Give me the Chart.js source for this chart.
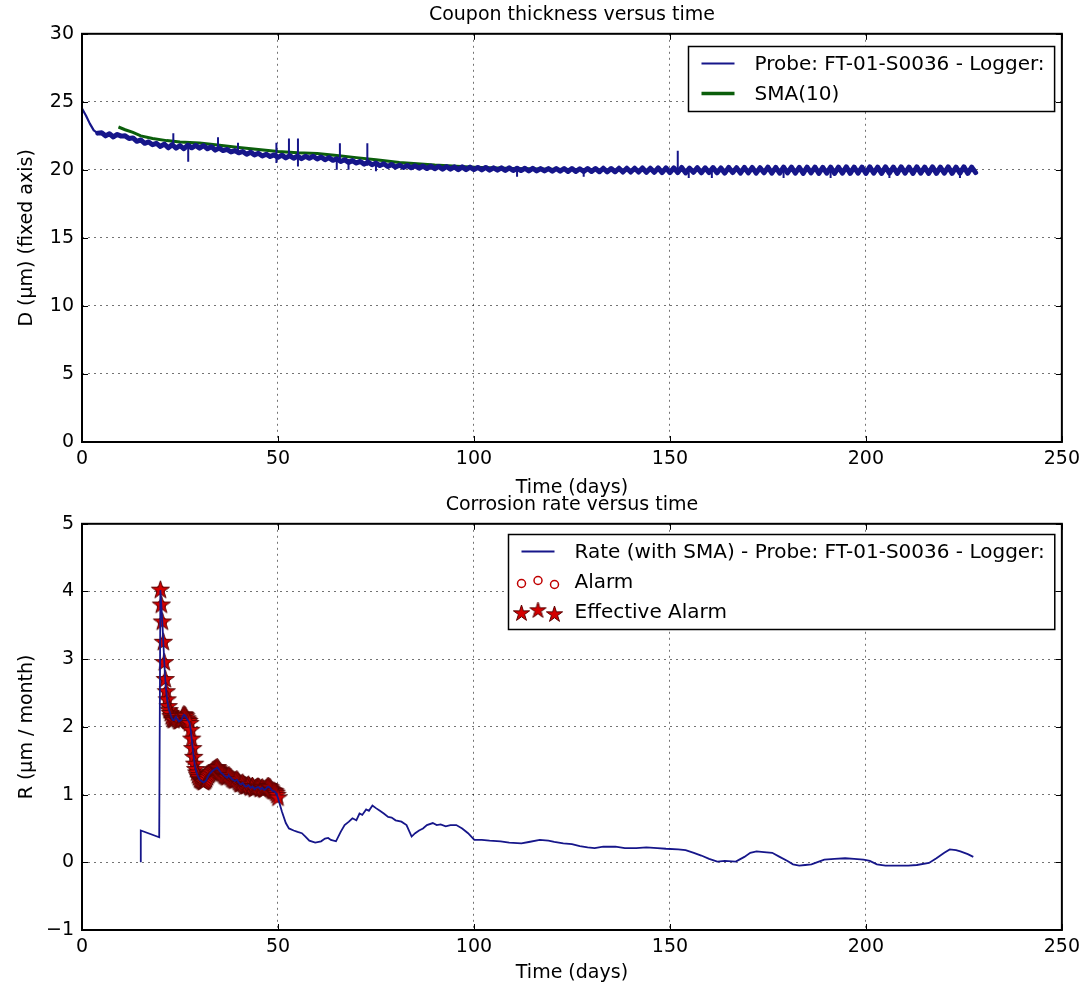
<!DOCTYPE html>
<html>
<head>
<meta charset="utf-8">
<title>Coupon thickness and corrosion rate versus time</title>
<script src="https://cdn.jsdelivr.net/npm/chart.js@4.4.1/dist/chart.umd.min.js"></script>
<style>
  html, body { margin: 0; padding: 0; background: #fff; }
  #wrap { position: relative; width: 1086px; height: 987px; overflow: hidden; }
  #wrap canvas { position: absolute; left: 0; }
  #thickness { top: 0; }
  #rate { top: 490px; }
</style>
</head>
<body>
<div id="wrap">
  <canvas id="thickness" width="1086" height="500"></canvas>
  <canvas id="rate" width="1086" height="497"></canvas>
</div>
<script>
// ---------- data ----------
const xTicks = [0, 50, 100, 150, 200, 250];
const thicknessTicks = [0, 5, 10, 15, 20, 25, 30];
const rateTicks = [-1, 0, 1, 2, 3, 4, 5];

const probeLabel = "Probe: FT-01-S0036 - Logger:";
const smaLabel = "SMA(10)";
const rateLabel = "Rate (with SMA) - Probe: FT-01-S0036 - Logger:";
const alarmLabel = "Alarm";
const effectiveLabel = "Effective Alarm";

// probe thickness, one sample per day starting at day 0 (µm)
const probeD = [
  24.5, 24.0, 23.4, 22.9, 22.7,
  22.72, 22.5, 22.65, 22.42, 22.6, 22.48,
  22.5, 22.3, 22.35, 22.1, 22.2, 21.95, 22.05, 21.85, 21.95, 21.72,
  21.9, 21.62, 21.85, 21.6, 21.78, 21.55, 21.82, 21.62, 21.8, 21.6,
  21.78, 21.55, 21.7, 21.45, 21.6, 21.42, 21.5, 21.32, 21.42, 21.25,
  21.35, 21.15, 21.3, 21.1, 21.22, 21.02, 21.15, 20.98, 21.1, 20.92,
  21.08, 20.88, 21.05, 20.85, 21.02, 20.82, 21.0, 20.85, 21.0, 20.8,
  20.95, 20.75, 20.9, 20.7, 20.82, 20.62, 20.75, 20.55, 20.68, 20.5,
  20.62, 20.42, 20.58, 20.38, 20.5, 20.32, 20.45, 20.25, 20.4, 20.2,
  20.35, 20.18, 20.32, 20.15, 20.3, 20.12, 20.28, 20.1, 20.28, 20.08,
  20.25, 20.05, 20.25, 20.05, 20.22, 20.02, 20.22, 20.02, 20.2, 20.02,
  20.18, 20.0, 20.18, 19.98, 20.15, 19.98, 20.15, 19.95, 20.15, 19.95,
  20.12, 19.95, 20.12, 19.92, 20.12, 19.92, 20.1, 19.92, 20.1, 19.9,
  20.1, 19.9, 20.1, 19.88, 20.1, 19.88, 20.08, 19.88, 20.1, 19.88,
  20.1, 19.86, 20.12, 19.85, 20.1, 19.86, 20.12, 19.84, 20.12, 19.84,
  20.12, 19.84, 20.14, 19.82, 20.12, 19.82, 20.15, 19.8, 20.15, 19.8,
  20.15, 19.8, 20.18, 19.78, 20.12, 19.82, 20.16, 19.78, 20.15, 19.8,
  20.17, 19.78, 20.14, 19.76, 20.18, 19.8, 20.16, 19.76, 20.18, 19.78,
  20.18, 19.76, 20.16, 19.78, 20.2, 19.76, 20.18, 19.76, 20.2, 19.78,
  20.2, 19.76, 20.18, 19.74, 20.2, 19.78, 20.2, 19.74, 20.18, 19.76,
  20.2, 19.74, 20.2, 19.76, 20.22, 19.74, 20.2, 19.76, 20.2, 19.74,
  20.22, 19.76, 20.2, 19.74, 20.22, 19.76, 20.2, 19.74, 20.22, 19.76,
  20.2, 19.74, 20.22, 19.76, 20.2, 19.74, 20.22, 19.74, 20.2, 19.76,
  20.22, 19.74, 20.2, 19.76, 20.22, 19.74, 20.2, 19.8
];

// isolated spikes / dips of the probe trace: [day, low, high]
const probeSpikes = [
  [23.3, 21.6, 22.7], [27.1, 20.6, 21.8], [34.7, 21.4, 22.4], [39.8, 21.2, 22.0],
  [49.6, 20.5, 22.0], [52.8, 20.9, 22.3], [55.1, 20.25, 22.3], [65.0, 20.0, 20.9],
  [65.8, 20.5, 21.95], [68.0, 20.0, 20.8], [72.8, 20.3, 21.95], [75.0, 19.9, 20.6],
  [111, 19.5, 20.2], [128, 19.5, 20.1], [152.0, 19.8, 21.4], [154.8, 19.4, 20.1],
  [160.7, 19.4, 20.1], [179.0, 19.4, 20.1], [191.0, 19.4, 20.1], [206.0, 19.4, 20.1],
  [224.0, 19.4, 20.1]
];

// 10-sample simple moving average
const smaDays = [9.3, 11, 13, 15, 18, 21.6, 25, 30, 34, 40, 45, 50, 55, 60, 65, 70, 75, 81,
                 90, 100, 110, 120, 130, 140, 150, 160, 170, 180, 190, 200, 210, 220, 228];
const smaD = [23.15, 22.95, 22.75, 22.5, 22.3, 22.15, 22.05, 21.98, 21.85, 21.65, 21.5, 21.35,
              21.25, 21.2, 21.05, 20.9, 20.75, 20.55, 20.35, 20.2, 20.1, 20.05, 20.0, 19.98,
              19.98, 19.98, 19.98, 19.98, 19.98, 19.98, 19.98, 19.98, 19.98];

// corrosion rate (µm / month): start of the trace, before the alarm window
const rateHeadDays = [15, 15, 19.7];
const rateHeadR = [0, 0.47, 0.37];

// alarm window: samples every 0.25 day from day 20 to day 50
const alarmStart = 20;
const alarmStep = 0.25;
const alarmR = [
  4.02, 3.8, 3.55, 3.25, 2.95, 2.7, 2.52, 2.4,
  2.3, 2.24, 2.2, 2.15, 2.12, 2.1, 2.1, 2.13,
  2.15, 2.12, 2.1, 2.08, 2.08, 2.1, 2.12, 2.16,
  2.18, 2.17, 2.15, 2.12, 2.1, 2.08, 2.05, 1.95,
  1.82, 1.68, 1.55, 1.45, 1.37, 1.32, 1.28, 1.25,
  1.22, 1.21, 1.2, 1.19, 1.18, 1.19, 1.2, 1.22,
  1.25, 1.28, 1.3, 1.32, 1.33, 1.35, 1.36, 1.37,
  1.38, 1.39, 1.4, 1.38, 1.36, 1.34, 1.32, 1.31,
  1.3, 1.28, 1.27, 1.26, 1.25, 1.27, 1.28, 1.26,
  1.25, 1.23, 1.22, 1.21, 1.2, 1.21, 1.22, 1.2,
  1.18, 1.16, 1.15, 1.16, 1.17, 1.15, 1.13, 1.12,
  1.12, 1.13, 1.14, 1.12, 1.1, 1.11, 1.12, 1.1,
  1.08, 1.09, 1.1, 1.11, 1.11, 1.1, 1.08, 1.09,
  1.1, 1.08, 1.07, 1.08, 1.09, 1.11, 1.12, 1.11,
  1.1, 1.08, 1.06, 1.05, 1.05, 1.04, 1.02, 0.99,
  0.95
];

// after the alarm window
const rateTailDays = [
  51, 52, 52.8, 54, 55, 56.1, 57, 58, 59.5, 61,
  62, 62.8, 63.5, 64.8, 66, 67, 68.1, 69, 70, 70.8,
  71.5, 72.5, 73.2, 74.1, 75, 76, 77, 78.1, 79, 80,
  81.5, 82.8, 84.1, 85, 86, 87, 88, 89.5, 90.5, 91.5,
  92.8, 94, 95.5, 97, 98.5, 100.1, 102, 104, 106.8, 109,
  112.1, 114, 116.8, 119, 120.5, 122.8, 125, 127, 129, 130.8,
  133, 136.1, 138.5, 141.4, 144, 146.8, 149, 152.1, 154, 156.1,
  158, 160, 162.1, 164, 166.8, 169, 170.5, 172.1, 174, 176.1,
  178, 180, 181.4, 183, 184.5, 186.1, 188, 189.4, 192, 194.7,
  197, 199.4, 201, 202.8, 205, 207, 210.8, 213, 216.1, 218,
  220, 221.4, 223, 224.1, 226, 227.4
];
const rateTailR = [
  0.75, 0.58, 0.50, 0.47, 0.45, 0.43, 0.38, 0.32, 0.29, 0.31,
  0.35, 0.36, 0.33, 0.31, 0.45, 0.55, 0.60, 0.65, 0.62, 0.72,
  0.70, 0.78, 0.76, 0.84, 0.80, 0.76, 0.72, 0.67, 0.66, 0.62,
  0.60, 0.55, 0.38, 0.43, 0.47, 0.50, 0.55, 0.58, 0.55, 0.56,
  0.53, 0.55, 0.55, 0.50, 0.43, 0.33, 0.33, 0.32, 0.31, 0.29,
  0.28, 0.30, 0.33, 0.32, 0.30, 0.28, 0.27, 0.24, 0.22, 0.21,
  0.23, 0.23, 0.21, 0.21, 0.22, 0.21, 0.20, 0.19, 0.18, 0.14,
  0.10, 0.05, 0.01, 0.02, 0.01, 0.08, 0.14, 0.16, 0.15, 0.14,
  0.08, 0.02, -0.03, -0.05, -0.04, -0.03, 0.01, 0.04, 0.05, 0.06,
  0.05, 0.04, 0.02, -0.03, -0.05, -0.05, -0.05, -0.04, -0.01, 0.06,
  0.14, 0.19, 0.18, 0.16, 0.12, 0.08
];

// ---------- styling ----------
const NAVY = "#16168a";
const GREEN = "#0b5e0b";
const RED = "#d40000";
const GRID = "rgba(0,0,0,0.55)";

Chart.defaults.font.family = "'DejaVu Sans', sans-serif";
Chart.defaults.font.size = 19;
Chart.defaults.color = "#000";

function starImage(r, fill, stroke) {
  const c = document.createElement("canvas");
  const s = Math.ceil(r * 2 + 4);
  c.width = c.height = s;
  const g = c.getContext("2d");
  g.beginPath();
  for (let i = 0; i < 10; i++) {
    const rad = i % 2 ? r * 0.38 : r;
    const a = -Math.PI / 2 + i * Math.PI / 5;
    g.lineTo(s / 2 + rad * Math.cos(a), s / 2 + rad * Math.sin(a));
  }
  g.closePath();
  g.fillStyle = fill;
  g.fill();
  g.strokeStyle = stroke;
  g.lineWidth = 1;
  g.stroke();
  return c;
}
const STAR = starImage(9.5, RED, "#5a0000");
const LEGEND_STAR = starImage(8.5, RED, "#5a0000");

// black box round the plot + inward ticks on all four sides
const framePlugin = {
  id: "frame",
  afterDatasetsDraw(chart) {
    const { ctx, chartArea: a, scales } = chart;
    const tl = 6;
    ctx.save();
    ctx.strokeStyle = "#000";
    ctx.lineWidth = 1;
    ctx.beginPath();
    scales.x.ticks.forEach(t => {
      const px = Math.round(scales.x.getPixelForValue(t.value)) + 0.5;
      ctx.moveTo(px, a.bottom); ctx.lineTo(px, a.bottom - tl);
      ctx.moveTo(px, a.top); ctx.lineTo(px, a.top + tl);
    });
    scales.y.ticks.forEach(t => {
      const py = Math.round(scales.y.getPixelForValue(t.value)) + 0.5;
      ctx.moveTo(a.left, py); ctx.lineTo(a.left + tl, py);
      ctx.moveTo(a.right, py); ctx.lineTo(a.right - tl, py);
    });
    ctx.stroke();
    ctx.lineWidth = 2;
    ctx.strokeRect(a.left, a.top, a.right - a.left, a.bottom - a.top);
    ctx.restore();
  }
};

// matplotlib style legend box in the upper right corner of the plot
const boxLegendPlugin = {
  id: "boxLegend",
  afterDraw(chart, args, o) {
    if (!o || !o.items) return;
    const { ctx, chartArea } = chart;
    ctx.save();
    ctx.font = "20px 'DejaVu Sans', sans-serif";
    const textW = Math.max(...o.items.map(it => ctx.measureText(it.label).width));
    const padL = 13, handle = 33, gap = 20, padR = 10, padT = 17, rowGap = 30, padB = 18;
    const w = padL + handle + gap + textW + padR;
    const h = padT + (o.items.length - 1) * rowGap + padB;
    const x0 = Math.round(chartArea.right - o.right - w) + 0.5;
    const y0 = Math.round(chartArea.top + o.top) + 0.5;
    ctx.fillStyle = "#fff";
    ctx.fillRect(x0, y0, w, h);
    ctx.strokeStyle = "#000";
    ctx.lineWidth = 1.5;
    ctx.strokeRect(x0, y0, w, h);
    const offs = [2, -1, 3];
    o.items.forEach((it, i) => {
      const cy = y0 + padT + i * rowGap;
      const hx = x0 + padL;
      if (it.kind === "line") {
        ctx.strokeStyle = it.color;
        ctx.lineWidth = it.width;
        ctx.beginPath();
        ctx.moveTo(hx, cy);
        ctx.lineTo(hx + handle, cy);
        ctx.stroke();
      } else {
        [0, 0.5, 1].forEach((f, k) => {
          const mx = hx + f * handle;
          const my = cy + offs[k];
          if (it.kind === "circle") {
            ctx.strokeStyle = "#c00000";
            ctx.lineWidth = 1.5;
            ctx.beginPath();
            ctx.arc(mx, my, 4, 0, Math.PI * 2);
            ctx.stroke();
          } else {
            ctx.drawImage(LEGEND_STAR, mx - LEGEND_STAR.width / 2, my - LEGEND_STAR.height / 2);
          }
        });
      }
      ctx.fillStyle = "#000";
      ctx.textBaseline = "middle";
      ctx.textAlign = "left";
      ctx.fillText(it.label, hx + handle + gap, cy + 1);
    });
    ctx.restore();
  }
};

function tickLabel(v) {
  return String(v).replace("-", "\u2212");
}

function baseOptions(cfg) {
  return {
    responsive: false,
    animation: false,
    events: [],
    layout: { padding: { left: 0, right: 23, top: 0, bottom: 0 } },
    plugins: {
      legend: { display: false },
      tooltip: { enabled: false },
      title: {
        display: true,
        fullSize: false,
        text: cfg.title,
        color: "#000",
        font: { size: 19, weight: "normal" },
        padding: { top: 4, bottom: 7 }
      },
      boxLegend: cfg.legend
    },
    scales: {
      x: {
        type: "linear",
        min: 0,
        max: 250,
        afterBuildTicks: s => { s.ticks = xTicks.map(v => ({ value: v })); },
        afterFit: s => { s.height = cfg.xHeight; },
        grid: { color: GRID, lineWidth: 1, drawTicks: false },
        border: { display: false, dash: [2, 4] },
        ticks: { padding: 6, color: "#000", callback: tickLabel },
        title: {
          display: true,
          text: "Time (days)",
          color: "#000",
          font: { size: 19 },
          padding: { top: 0, bottom: cfg.xTitlePad }
        }
      },
      y: {
        type: "linear",
        min: cfg.yTicks[0],
        max: cfg.yTicks[cfg.yTicks.length - 1],
        afterBuildTicks: s => { s.ticks = cfg.yTicks.map(v => ({ value: v })); },
        afterFit: s => { s.width = 82; },
        grid: { color: GRID, lineWidth: 1, drawTicks: false },
        border: { display: false, dash: [2, 4] },
        ticks: { padding: 8, color: "#000", callback: tickLabel },
        title: {
          display: true,
          text: cfg.yTitle,
          color: "#000",
          font: { size: 19 },
          padding: { top: 16, bottom: 0 }
        }
      }
    }
  };
}

// ---------- top: coupon thickness ----------
const probePoints = probeD.map((v, i) => ({ x: i, y: v }));
const spikePoints = [];
probeSpikes.forEach(([d, lo, hi]) => {
  spikePoints.push({ x: d, y: lo }, { x: d, y: hi }, { x: d, y: null });
});
const smaPoints = smaDays.map((d, i) => ({ x: d, y: smaD[i] }));

new Chart(document.getElementById("thickness"), {
  type: "line",
  data: {
    datasets: [
      { label: probeLabel, data: probePoints, borderColor: NAVY, borderWidth: 5,
        borderJoinStyle: "round", borderCapStyle: "round",
        // the first days are a single clean trace, after that a dense noisy band
        segment: { borderWidth: c => (c.p0.parsed.x < 4 ? 2.2 : 5) },
        pointRadius: 0, tension: 0, order: 2 },
      { label: probeLabel, data: spikePoints, borderColor: NAVY, borderWidth: 2,
        pointRadius: 0, tension: 0, spanGaps: false, order: 1 },
      { label: smaLabel, data: smaPoints, borderColor: GREEN, borderWidth: 3,
        pointRadius: 0, tension: 0, order: 3 }
    ]
  },
  options: baseOptions({
    title: "Coupon thickness versus time",
    yTitle: "D (\u03bcm) (fixed axis)",
    yTicks: thicknessTicks,
    xHeight: 58,
    xTitlePad: 1,
    legend: {
      right: 8, top: 12,
      items: [
        { label: probeLabel, kind: "line", color: NAVY, width: 2 },
        { label: smaLabel, kind: "line", color: GREEN, width: 3.5 }
      ]
    }
  }),
  plugins: [framePlugin, boxLegendPlugin]
});

// ---------- bottom: corrosion rate ----------
const alarmPoints = alarmR.map((v, i) => ({ x: alarmStart + i * alarmStep, y: v }));
const ratePoints = [
  ...rateHeadDays.map((d, i) => ({ x: d, y: rateHeadR[i] })),
  ...alarmPoints,
  ...rateTailDays.map((d, i) => ({ x: d, y: rateTailR[i] }))
];

new Chart(document.getElementById("rate"), {
  type: "line",
  data: {
    datasets: [
      { label: rateLabel, data: ratePoints, borderColor: NAVY, borderWidth: 1.8,
        pointRadius: 0, tension: 0, order: 1 },
      { label: alarmLabel, data: alarmPoints, showLine: false, pointStyle: "circle",
        pointRadius: 4, borderColor: "#c00000", backgroundColor: "rgba(0,0,0,0)",
        pointBorderWidth: 1.5, order: 3 },
      { label: effectiveLabel, data: alarmPoints, showLine: false, pointStyle: STAR,
        pointRadius: 10, order: 2 }
    ]
  },
  options: baseOptions({
    title: "Corrosion rate versus time",
    yTitle: "R (\u03bcm / month)",
    yTicks: rateTicks,
    xHeight: 57,
    xTitlePad: 3,
    legend: {
      right: 8, top: 10,
      items: [
        { label: rateLabel, kind: "line", color: NAVY, width: 2 },
        { label: alarmLabel, kind: "circle" },
        { label: effectiveLabel, kind: "star" }
      ]
    }
  }),
  plugins: [framePlugin, boxLegendPlugin]
});
</script>
</body>
</html>
